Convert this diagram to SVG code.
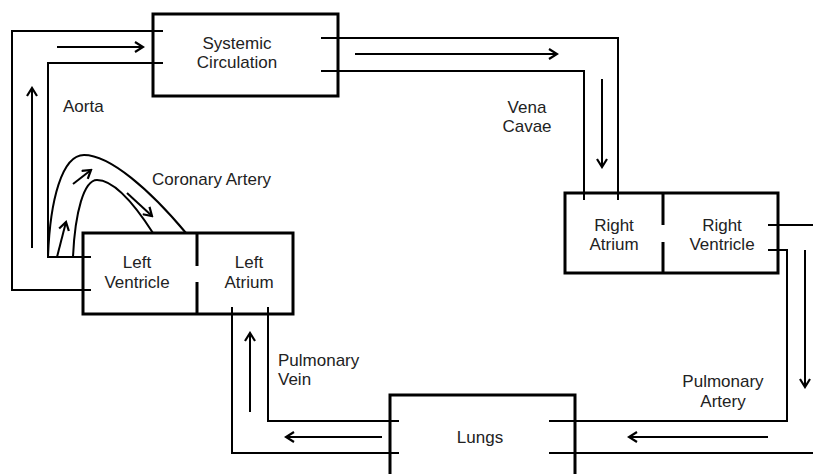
<svg xmlns="http://www.w3.org/2000/svg" width="813" height="474" viewBox="0 0 813 474">
<style>
.box{fill:none;stroke:#000;stroke-width:3}
.ln{fill:none;stroke:#000;stroke-width:2}
.ar{fill:none;stroke:#000;stroke-width:2;marker-end:url(#ah)}
text{font-family:"Liberation Sans",Arial,sans-serif;font-size:17px;fill:#222}
.c{text-anchor:middle}
</style>
<defs>
<marker id="ah" viewBox="0 0 12 12" refX="10" refY="6" markerWidth="12" markerHeight="12" markerUnits="userSpaceOnUse" orient="auto">
<path d="M2,1 L10,6 L2,11" fill="none" stroke="#000" stroke-width="2.2"/>
</marker>
</defs>
<rect width="813" height="474" fill="#fff"/>
<g id="connectors">
<path class="ln" d="M163,31 H12 V290 H91"/>
<path class="ln" d="M163,63 H48 V257 H91"/>
<path class="ar" d="M32,248 V88"/>
<path class="ar" d="M57,47 H143"/>
<path class="ln" d="M48,257 C50,200 62,155 84,155 C110,155 150,190 186,233"/>
<path class="ln" d="M73,257 C75,212 84,180 97,180 C115,180 135,205 153,233"/>
<path class="ar" d="M57,257 L66,222"/>
<path class="ar" d="M73,184 L91,170"/>
<path class="ar" d="M127,193 L152,216"/>
<path class="ln" d="M321,38 H618 V200"/>
<path class="ln" d="M321,71 H584 V200"/>
<path class="ar" d="M355,54 H557"/>
<path class="ar" d="M602,79 V167"/>
<path class="ln" d="M768,225 H813"/>
<path class="ln" d="M768,250 H787 V421 H549"/>
<path class="ln" d="M549,453 H813"/>
<path class="ar" d="M805,250 V387"/>
<path class="ar" d="M768,437 H629"/>
<path class="ln" d="M232,307 V453 H399"/>
<path class="ln" d="M268,307 V421 H399"/>
<path class="ar" d="M250,412 V333"/>
<path class="ar" d="M382,437 H286"/>
</g>
<g id="systemic">
<rect class="box" x="153" y="14" width="185" height="82"/>
<text class="c" x="237" y="49">Systemic</text>
<text class="c" x="237" y="68">Circulation</text>
</g>
<g id="left-heart">
<rect class="box" x="83" y="233" width="210" height="81"/>
<path class="box" d="M197,233 V266 M197,282 V314"/>
<text class="c" x="137" y="268">Left</text>
<text class="c" x="137" y="288">Ventricle</text>
<text class="c" x="249" y="268">Left</text>
<text class="c" x="249" y="288">Atrium</text>
</g>
<g id="right-heart">
<rect class="box" x="565" y="193" width="213" height="80"/>
<path class="box" d="M663,193 V225 M663,242 V273"/>
<text class="c" x="614" y="231">Right</text>
<text class="c" x="614" y="250">Atrium</text>
<text class="c" x="722" y="231">Right</text>
<text class="c" x="722" y="250">Ventricle</text>
</g>
<g id="lungs">
<path class="box" d="M390,480 V395 H575 V480"/>
<text class="c" x="480" y="443">Lungs</text>
</g>
<g id="labels">
<text x="63" y="112">Aorta</text>
<text x="152" y="185">Coronary Artery</text>
<text class="c" x="527" y="113">Vena</text>
<text class="c" x="527" y="132">Cavae</text>
<text x="278" y="366">Pulmonary</text>
<text x="278" y="385">Vein</text>
<text class="c" x="723" y="387">Pulmonary</text>
<text class="c" x="723" y="407">Artery</text>
</g>
</svg>
